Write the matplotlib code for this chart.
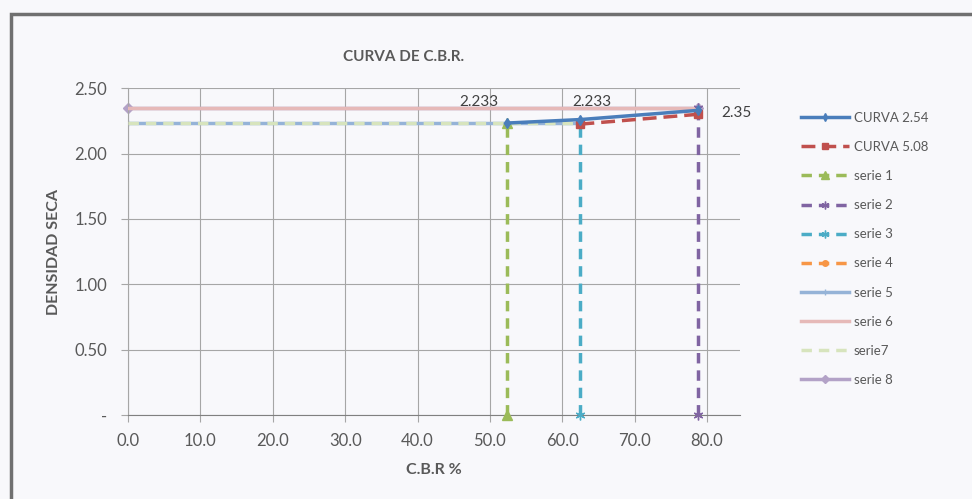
import matplotlib
matplotlib.use("Agg")
import matplotlib.pyplot as plt
from matplotlib.patches import Rectangle

plt.rcParams['font.family'] = ['Lato', 'DejaVu Sans']

# datos
curva254_x = [52.3, 62.5, 78.7]
curva254_y = [2.233, 2.26, 2.33]
curva508_x = [62.5, 78.7]
curva508_y = [2.225, 2.30]
serie1_x = [52.3, 52.3]
serie1_y = [0.0, 2.233]
serie2_x = [78.7, 78.7]
serie2_y = [0.0, 2.35]
serie3_x = [62.5, 62.5]
serie3_y = [0.0, 2.233]
serie4_x = [62.5]
serie4_y = [2.233]
serie5_x = [0.0, 62.5]
serie5_y = [2.233, 2.233]
serie6_x = [0.0, 78.7]
serie6_y = [2.35, 2.35]
serie7_x = [0.0, 62.5]
serie7_y = [2.233, 2.233]
serie8_x = [0.0, 78.7]
serie8_y = [2.35, 2.35]

etiquetas = ["2.233", "2.233", "2.35"]
etiq_x = [52.3, 62.5, 78.7]
etiq_y = [2.233, 2.233, 2.35]

yticks = [0.0, 0.5, 1.0, 1.5, 2.0, 2.5]
ytick_labels = ["-", "0.50", "1.00", "1.50", "2.00", "2.50"]
xticks = [0, 10, 20, 30, 40, 50, 60, 70, 80]

bg = '#f8f8fb'
txt = '#595959'

fig = plt.figure(figsize=(9.72, 4.99), dpi=100, facecolor=bg)
ax = fig.add_axes([0.1317, 0.1683, 0.630, 0.655], facecolor=bg)

# marco exterior (solo se ven borde superior e izquierdo)
fig.patches.append(Rectangle((11 / 972, -0.2), 1.2, 1.2 - 14 / 499,
                             transform=fig.transFigure, fill=False,
                             edgecolor='#707070', linewidth=2.5))

ax.plot(serie8_x, serie8_y, color='#b3a2c7', lw=2.5, marker='D', ms=5,
        label='serie 8', zorder=2, clip_on=False)
ax.plot(serie6_x, serie6_y, color='#e6b9b8', lw=2.5, label='serie 6', zorder=3)
ax.plot(serie5_x, serie5_y, color='#95b3d7', lw=2.5, marker='|', ms=5,
        label='serie 5', zorder=2)
ax.plot(serie7_x, serie7_y, color='#d7e4bd', lw=2.5, ls=(0, (3, 2)),
        label='serie7', zorder=3)
ax.plot(serie1_x, serie1_y, color='#9bbb59', lw=2.5, ls=(0, (3, 2)),
        marker='^', ms=7, label='serie 1', zorder=4, clip_on=False)
ax.plot(serie3_x, serie3_y, color='#4bacc6', lw=2.5, ls=(0, (3, 2)),
        marker=(6, 2, 0), ms=7, label='serie 3', zorder=4, clip_on=False)
ax.plot(serie2_x, serie2_y, color='#8064a2', lw=2.5, ls=(0, (3, 2)),
        marker=(6, 2, 0), ms=7, label='serie 2', zorder=4, clip_on=False)
ax.plot(serie4_x, serie4_y, color='#f79646', lw=2.5, ls=(0, (3, 2)),
        marker='o', ms=5, label='serie 4', zorder=5)
ax.plot(curva508_x, curva508_y, color='#c0504d', lw=2.5, ls=(0, (4, 2)),
        marker='s', ms=6, label='CURVA 5.08', zorder=6)
ax.plot(curva254_x, curva254_y, color='#4a7ebb', lw=2.5, marker='d', ms=5,
        label='CURVA 2.54', zorder=6)

offs = [(-20, 10), (8, 10), (28, -4)]
for t, x, y, o in zip(etiquetas, etiq_x, etiq_y, offs):
    ax.annotate(t, (x, y), xytext=o, textcoords='offset points',
                ha='center', va='bottom' if o[1] > 0 else 'center',
                fontsize=11, color='#404040', zorder=7)

ax.set_xlim(0, 84.6)
ax.set_ylim(0, 2.5)
ax.set_xticks(xticks)
ax.set_xticklabels([f"{v:.1f}" for v in xticks])
ax.set_yticks(yticks)
ax.set_yticklabels(ytick_labels)
ax.grid(True, color='#a6a6a6', lw=0.8)
ax.set_axisbelow(True)
for s in ['top', 'right']:
    ax.spines[s].set_visible(False)
ax.spines['left'].set_color('#a6a6a6')
ax.spines['bottom'].set_color('#808080')
ax.tick_params(colors='#a6a6a6', labelcolor=txt, labelsize=12, length=5)
ax.tick_params(axis='x', pad=8)
ax.tick_params(axis='y', pad=10)

fig.text(404 / 972, 1 - 57 / 499, "CURVA DE C.B.R.", fontsize=11,
         fontweight='bold', color=txt, ha='center', va='center')
ax.set_xlabel("C.B.R %", fontsize=11.5, fontweight='bold', color=txt,
              labelpad=10)
ax.set_ylabel("DENSIDAD SECA", fontsize=11.5, fontweight='bold', color=txt,
              labelpad=10)

handles, labels = ax.get_legend_handles_labels()
orden = ['CURVA 2.54', 'CURVA 5.08', 'serie 1', 'serie 2', 'serie 3',
         'serie 4', 'serie 5', 'serie 6', 'serie7', 'serie 8']
hl = dict(zip(labels, handles))
leg = fig.legend([hl[k] for k in orden], orden, loc='upper left',
                 bbox_to_anchor=(0.812, 0.80), frameon=False, fontsize=9.5,
                 handlelength=3.6, handletextpad=0.4, labelspacing=1.3,
                 markerscale=0.8)
for t in leg.get_texts():
    t.set_color(txt)

fig.savefig("out.png", dpi=100, facecolor=bg)
